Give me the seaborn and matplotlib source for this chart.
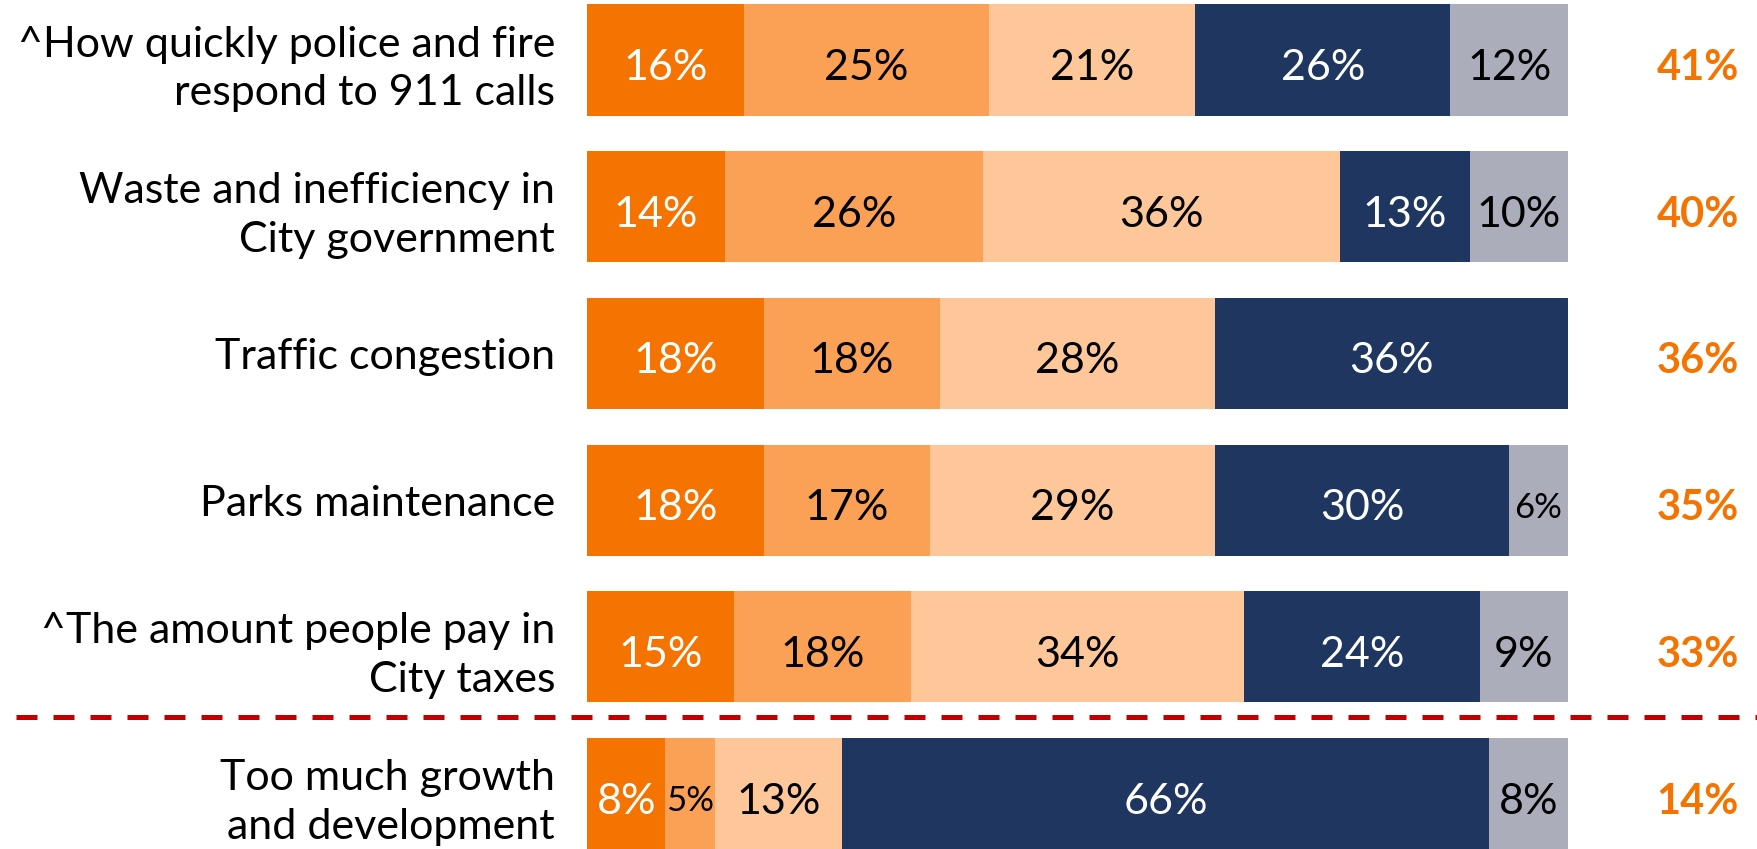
import seaborn as sns
import pandas as pd
import numpy as np
from matplotlib import pyplot as plt
from matplotlib.lines import Line2D

# rows, top to bottom
issues = ["^How quickly police and fire\nrespond to 911 calls",
          "Waste and inefficiency in\nCity government",
          "Traffic congestion",
          "Parks maintenance",
          "^The amount people pay in\nCity taxes",
          "Too much growth\nand development"]

# printed percentages per segment (left to right)
seg1 = [16, 14, 18, 18, 15, 8]
seg2 = [25, 26, 18, 17, 18, 5]
seg3 = [21, 36, 28, 29, 34, 13]
seg4 = [26, 13, 36, 30, 24, 66]
seg5 = [12, 10, 0, 6, 9, 8]

# segment widths as measured (labels are rounded)
w1 = [16, 14.1, 18, 18, 15, 8]
w2 = [25, 26.3, 18, 17, 18, 5]
w3 = [21, 36.4, 28, 29, 34, 13]
w4 = [26, 13.2, 36, 30, 24, 66]
w5 = [12, 10.0, 0, 6, 9, 8]

totals = [41, 40, 36, 35, 33, 14]

colors = ["#F57300", "#FBA155", "#FDC79A", "#1E3660", "#ABADBA"]
txt_colors = ["white", "black", "black", "white", "black"]
orange = "#F57300"

sns.set_style("white")
plt.rcParams['font.family'] = ['Lato', 'DejaVu Sans']

fig = plt.figure(figsize=(17.58, 8.49), dpi=100)
ax = fig.add_axes([0.3339, 0, 0.558, 1])

widths = [w1, w2, w3, w4, w5]
labels = [seg1, seg2, seg3, seg4, seg5]
cum = np.cumsum(np.array(widths), axis=0)

# draw from longest cumulative bar down so the shorter ones sit on top
for i in range(4, -1, -1):
    df = pd.DataFrame({'issue': issues, 'val': cum[i]})
    sns.barplot(data=df, x='val', y='issue', order=issues, orient='h',
                color=colors[i], saturation=1, width=0.757, linewidth=0, ax=ax)

for j in range(len(issues)):
    for i in range(5):
        w = widths[i][j]
        if w <= 0:
            continue
        start = cum[i][j] - w
        fs = 31 if w >= 7 else 25
        ax.text(start + w / 2, j + 0.03, f"{labels[i][j]}%", ha='center', va='center_baseline',
                color=txt_colors[i], fontsize=fs)
    ax.text(113.25, j + 0.03, f"{totals[j]}%", ha='center', va='center_baseline',
            color=orange, fontsize=30, fontweight='bold', clip_on=False)

ax.set_xlim(0, 100)
ax.set_ylim(5.377, -0.409)
ax.set_xlabel("")
ax.set_ylabel("")
ax.set_xticks([])
ax.tick_params(axis='y', length=0, pad=23, labelsize=31, labelcolor='black')
for t in ax.get_yticklabels():
    t.set_linespacing(1.35)
sns.despine(ax=ax, left=True, bottom=True)

# divider between the city-service issues and growth
fig.add_artist(Line2D([0.009, 1.0], [0.1555, 0.1555], color="#C00000", lw=3.6,
                      dashes=(4.2, 3.2)))

fig.savefig("out.png", dpi=100)
